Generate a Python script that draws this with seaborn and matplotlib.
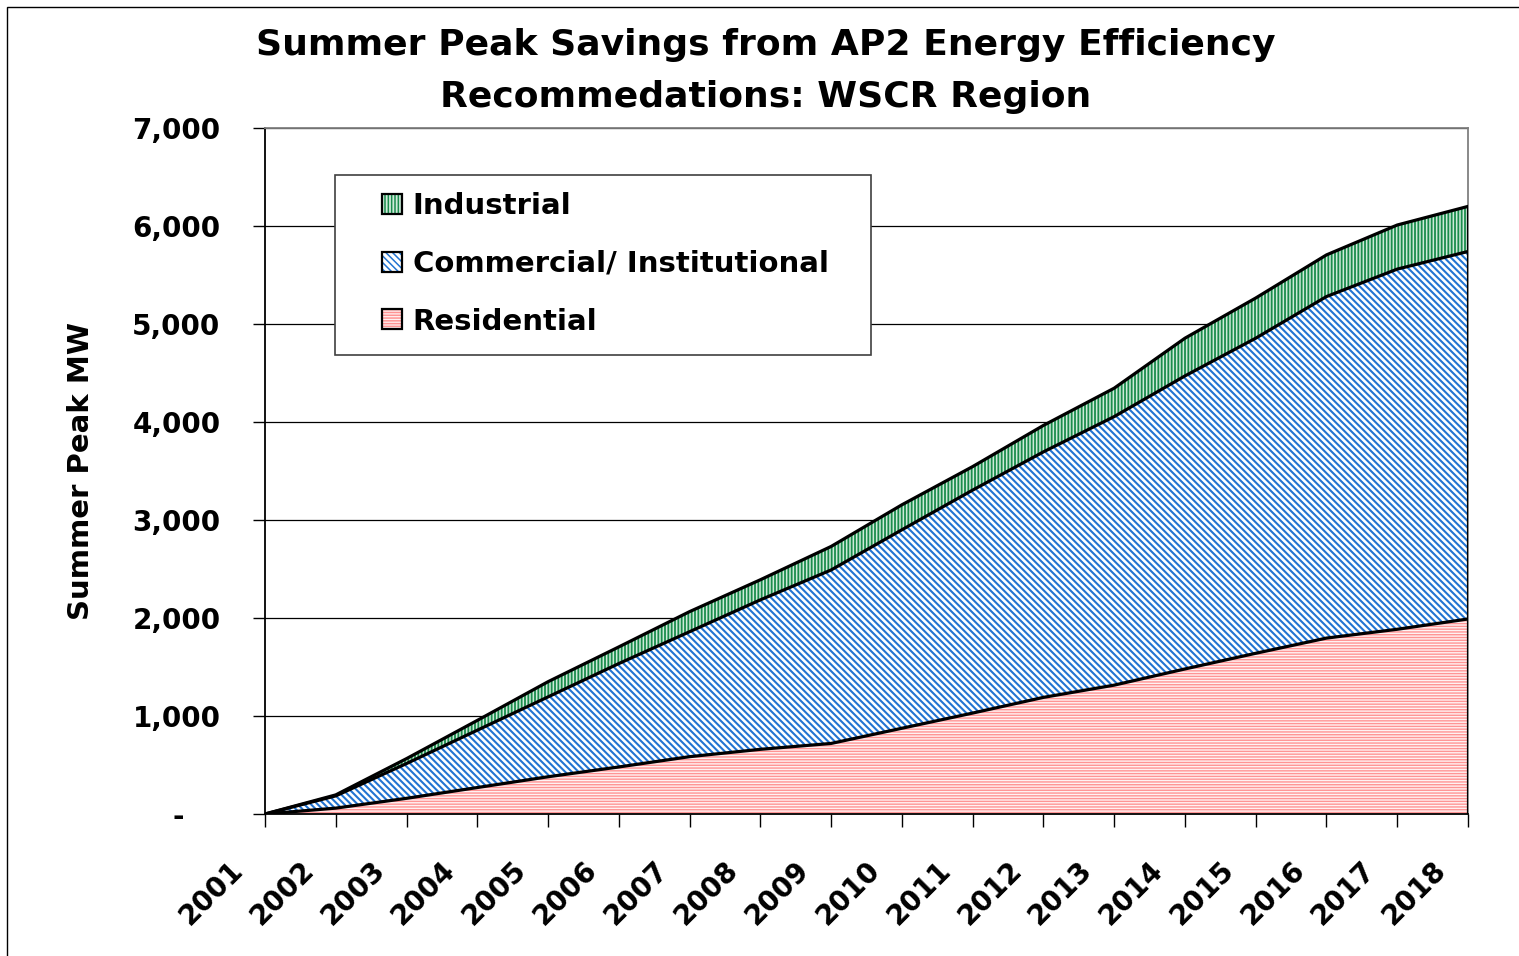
import matplotlib
matplotlib.use("Agg")
import matplotlib.pyplot as plt
import matplotlib.transforms as mtransforms
from matplotlib.patches import Patch, Rectangle
from matplotlib.ticker import FuncFormatter
import numpy as np
import pandas as pd
import seaborn as sns

# ---------------- data ----------------
years = [2001, 2002, 2003, 2004, 2005, 2006, 2007, 2008, 2009,
         2010, 2011, 2012, 2013, 2014, 2015, 2016, 2017, 2018]
residential = [0, 60, 160, 270, 380, 480, 585, 660, 720,
               875, 1030, 1190, 1315, 1480, 1640, 1795, 1885, 1990]
commercial = [0, 125, 355, 585, 815, 1055, 1275, 1525, 1770,
              2025, 2275, 2505, 2740, 2990, 3215, 3485, 3675, 3750]
industrial = [0, 10, 50, 100, 155, 170, 205, 205, 240,
              255, 240, 270, 290, 385, 410, 425, 450, 460]
series_names = ["Industrial", "Commercial/ Institutional", "Residential"]
title_text = "Summer Peak Savings from AP2 Energy Efficiency\nRecommedations: WSCR Region"
ylabel_text = "Summer Peak MW"
yticks = [0, 1000, 2000, 3000, 4000, 5000, 6000, 7000]

df = pd.DataFrame({"year": years, "Residential": residential,
                   "Commercial": commercial, "Industrial": industrial})
df["res_top"] = df["Residential"]
df["com_top"] = df["res_top"] + df["Commercial"]
df["ind_top"] = df["com_top"] + df["Industrial"]

# ---------------- style ----------------
sns.set_theme(style="white")
plt.rcParams["font.family"] = ["DejaVu Sans"]
plt.rcParams["font.weight"] = "bold"
plt.rcParams["text.color"] = "black"
plt.rcParams["axes.labelcolor"] = "black"
plt.rcParams["xtick.color"] = "black"
plt.rcParams["ytick.color"] = "black"
plt.rcParams["xtick.labelcolor"] = "black"
plt.rcParams["ytick.labelcolor"] = "black"
plt.rcParams["hatch.linewidth"] = 1.1

W, H = 1519, 956
fig = plt.figure(figsize=(W / 100, H / 100), dpi=100)
fig.patch.set_facecolor("white")
ax = fig.add_axes([265 / W, 1 - 814 / H, (1468 - 265) / W, (814 - 128) / H])

# figure border (top/left visible)
fig.add_artist(Rectangle((7 / W, -0.05), 1.2, 1 - 7 / H + 0.05, transform=fig.transFigure,
                         fill=False, edgecolor="black", linewidth=1.0))

x = df["year"].to_numpy()
res_col = dict(face="#fff2f2", hatch_c="#ff9494", hatch="------", lw=1.0)
com_col = dict(face="#ffffff", hatch_c="#2274d2", hatch="\\\\\\\\\\", lw=1.5)
ind_col = dict(face="#cfeada", hatch_c="#1a8c4c", hatch="|||||", lw=1.3)

for lower, upper, c in [(np.zeros(len(x)), df["res_top"], res_col),
                        (df["res_top"], df["com_top"], com_col),
                        (df["com_top"], df["ind_top"], ind_col)]:
    with plt.rc_context({"hatch.linewidth": c["lw"]}):
        ax.fill_between(x, lower, upper, facecolor=c["face"], edgecolor=c["hatch_c"],
                        hatch=c["hatch"], linewidth=0, zorder=2)

# boundary lines
for col in ["res_top", "com_top", "ind_top"]:
    sns.lineplot(data=df, x="year", y=col, color="black", linewidth=2.3, ax=ax,
                 zorder=4, legend=False)
ax.plot([x[-1], x[-1]], [0, df["ind_top"].iloc[-1]], color="black", linewidth=2.3, zorder=4)

ax.set_xlim(2001, 2018)
ax.set_ylim(0, 7000)
ax.set_yticks(yticks)
ax.set_yticklabels(["-" if v == 0 else f"{int(v):,}" for v in yticks])
ax.set_xticks(years)
ax.set_xticklabels([str(y) for y in years])

ax.set_axisbelow(True)
ax.yaxis.grid(True, color="black", linewidth=0.9)
ax.xaxis.grid(False)

for s in ["left", "bottom"]:
    ax.spines[s].set_color("black")
    ax.spines[s].set_linewidth(1.3)
for s in ["top", "right"]:
    ax.spines[s].set_color("#808080")
    ax.spines[s].set_linewidth(1.3)

ax.tick_params(axis="y", direction="out", length=9, width=1, color="black",
               labelsize=20, pad=23, left=True, labelcolor="black")
ax.tick_params(axis="x", direction="out", length=9, width=1, color="black",
               labelsize=20, pad=28, bottom=True, labelcolor="black")
for lab in ax.get_yticklabels():
    lab.set_fontweight("bold")
# the zero label ("-") sits further left, as in accounting number format
zero_lab = ax.get_yticklabels()[0]
zero_lab.set_transform(zero_lab.get_transform() +
                       mtransforms.ScaledTranslation(-37 / 100, 0, fig.dpi_scale_trans))
offset = mtransforms.ScaledTranslation(-26 / 100, 0, fig.dpi_scale_trans)
for lab in ax.get_xticklabels():
    lab.set_rotation(45)
    lab.set_ha("right")
    lab.set_va("center")
    lab.set_rotation_mode("anchor")
    lab.set_fontweight("bold")
    lab.set_transform(lab.get_transform() + offset)

ax.set_xlabel("")
ax.set_ylabel(ylabel_text, fontsize=21, fontweight="bold", color="black")
ax.yaxis.set_label_coords((95 - 265) / (1468 - 265), 0.5)

fig.text(766 / W, 1 - 71 / H, title_text, ha="center", va="center",
         fontsize=26, fontweight="bold", linespacing=1.7, color="black")

# legend frame (drawn explicitly) + legend content
ax.add_patch(Rectangle((335 / W, 1 - 355 / H), (871 - 335) / W, (355 - 175) / H,
                       transform=fig.transFigure, facecolor="white", edgecolor="#404040",
                       linewidth=1.2, zorder=9, clip_on=False))
handles = []
for c in [ind_col, com_col, res_col]:
    p1 = Patch(facecolor=c["face"], edgecolor=c["hatch_c"], hatch=c["hatch"], linewidth=0)
    p2 = Patch(facecolor="none", edgecolor="black", linewidth=1.6)
    handles.append((p1, p2))
leg = ax.legend(handles, series_names, loc="upper left",
                bbox_to_anchor=(382 / W, 1 - 192 / H), bbox_transform=fig.transFigure,
                prop={"size": 21, "weight": "bold"}, frameon=False,
                borderpad=0, labelspacing=1.02, handlelength=0.7,
                handleheight=0.68, handletextpad=0.35, borderaxespad=0,
                labelcolor="black")
leg.set_zorder(10)

fig.savefig("out.png", dpi=100, facecolor="white")
